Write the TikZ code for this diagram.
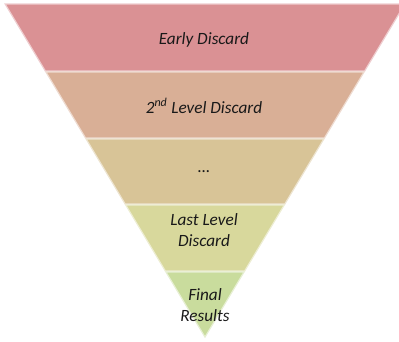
\documentclass[tikz,border=0pt]{standalone}
\usepackage{fontspec}
\setmainfont{Carlito}
\definecolor{bandA}{RGB}{218,145,148}
\definecolor{bandB}{RGB}{217,175,150}
\definecolor{bandC}{RGB}{216,196,151}
\definecolor{bandD}{RGB}{216,216,156}
\definecolor{bandE}{RGB}{201,220,157}
\begin{document}
\begin{tikzpicture}[x=1pt,y=-1pt,
  band/.style={draw=white!55!#1,line width=1.2pt,line join=miter,fill=#1},
  lbl/.style={font=\fontsize{17.2}{20.5}\selectfont\itshape,align=center,text=black!90}]
\useasboundingbox (0,0) rectangle (399,341);
\clip (0,0) rectangle (399,341);
% k = 0.6, centre x = 205, apex y = 337
\path[band=bandA] ({205-0.6*(337-4)},4) -- ({205+0.6*(337-4)},4) -- ({205+0.6*(337-71)},71) -- ({205-0.6*(337-71)},71) -- cycle;
\path[band=bandB] ({205-0.6*(337-72)},72) -- ({205+0.6*(337-72)},72) -- ({205+0.6*(337-138)},138) -- ({205-0.6*(337-138)},138) -- cycle;
\path[band=bandC] ({205-0.6*(337-139)},139) -- ({205+0.6*(337-139)},139) -- ({205+0.6*(337-204)},204) -- ({205-0.6*(337-204)},204) -- cycle;
\path[band=bandD] ({205-0.6*(337-205)},205) -- ({205+0.6*(337-205)},205) -- ({205+0.6*(337-271)},271) -- ({205-0.6*(337-271)},271) -- cycle;
\path[band=bandE] ({205-0.6*(337-272)},272) -- ({205+0.6*(337-272)},272) -- (205,337) -- cycle;
\node[lbl] (t1) at (204,40) {Early Discard};
\node[lbl] (t2) at (204,106) {2\textsuperscript{nd} Level Discard};
\node[lbl] (t3) at (204,172) {\ldots};
\node[lbl] (t4) at (204,230) {Last Level\\Discard};
\node[lbl] (t5) at (205,305) {Final\\Results};
\end{tikzpicture}
\end{document}
